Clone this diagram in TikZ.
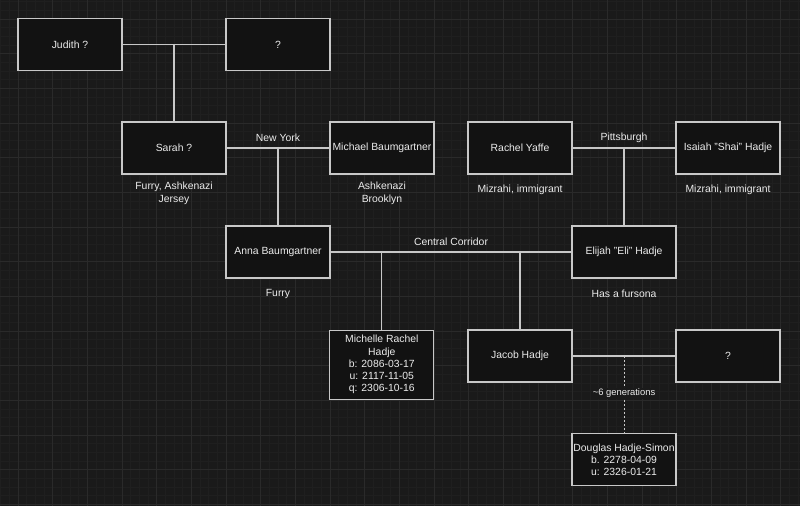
\documentclass[tikz,border=0pt]{standalone}
\usepackage{fontspec}
\setmainfont{Liberation Sans}
\definecolor{bgcol}{HTML}{1A1A1A}
\definecolor{minorcol}{HTML}{1F1F1F}
\definecolor{majorcol}{HTML}{2A2A2A}
\definecolor{boxfill}{HTML}{121212}
\definecolor{strokecol}{HTML}{C8C8C8}
\definecolor{txtcol}{HTML}{ECECEC}
\tikzset{
  person/.style={draw=strokecol, fill=boxfill, line width=1.1pt, minimum width=104pt, minimum height=52pt, inner sep=1pt, text=txtcol, align=center, font=\fontsize{10.4}{12.3}\selectfont},
  tall/.style={minimum height=69.3pt},
  note/.style={text=txtcol, align=center, inner sep=1pt, font=\fontsize{10.4}{13.5}\selectfont, yshift=-1.8pt},
  link/.style={draw=strokecol, line width=1.1pt},
}
\begin{document}
\begin{tikzpicture}[x=1pt,y=-1pt]
\fill[bgcol] (0,0) rectangle (800,506);
\useasboundingbox (0,0) rectangle (800,506);
% grid
\foreach \i in {0,...,92} {\draw[minorcol, line width=0.6pt] (0.667+\i*8.6667,0) -- (0.667+\i*8.6667,506);}
\foreach \i in {0,...,58} {\draw[minorcol, line width=0.6pt] (0,1.667+\i*8.6667) -- (800,1.667+\i*8.6667);}
\foreach \i in {-1,...,23} {\draw[majorcol, line width=0.9pt] (18+\i*34.6667,0) -- (18+\i*34.6667,506);}
\foreach \i in {-1,...,14} {\draw[majorcol, line width=0.9pt] (0,19+\i*34.6667) -- (800,19+\i*34.6667);}
% people
\node[person] (judith) at (70,44.5) {Judith ?};
\node[person] (unk1) at (278,44.5) {?};
\node[person] (sarah) at (174,148) {Sarah ?};
\node[person] (michael) at (382,148) {Michael Baumgartner};
\node[person] (rachel) at (520,148) {Rachel Yaffe};
\node[person] (isaiah) at (728,148) {Isaiah "Shai" Hadje};
\node[person] (anna) at (278,252) {Anna Baumgartner};
\node[person] (elijah) at (624,252) {Elijah "Eli" Hadje};
\node[person, tall] (michelle) at (381.8,364.7) {Michelle Rachel\\Hadje\\b: 2086-03-17\\u: 2117-11-05\\q: 2306-10-16};
\node[person] (jacob) at (520,356) {Jacob Hadje};
\node[person] (unk2) at (728,356) {?};
\node[person] (douglas) at (624,459.7) {Douglas Hadje-Simon\\b. 2278-04-09\\u: 2326-01-21};
% notes
\node[note] (nsarah) at (174,191.5) {Furry, Ashkenazi\\Jersey};
\node[note] (nmichael) at (382,191.5) {Ashkenazi\\Brooklyn};
\node[note] (nrachel) at (520,188.3) {Mizrahi, immigrant};
\node[note] (nisaiah) at (728,188.3) {Mizrahi, immigrant};
\node[note] (nanna) at (278,292) {Furry};
\node[note] (nelijah) at (624,292) {Has a fursona};
% connectors
\draw[link] (judith.east) -- (unk1.west);
\draw[link] (judith.east -| sarah.north) -- (sarah.north);
\draw[link] (sarah.east) -- (michael.west);
\draw[link] (sarah.east -| anna.north) -- (anna.north);
\draw[link] (rachel.east) -- (isaiah.west);
\draw[link] (rachel.east -| elijah.north) -- (elijah.north);
\draw[link] (anna.east) -- (elijah.west);
\draw[link] (anna.east -| michelle.north) -- (michelle.north);
\draw[link] (anna.east -| jacob.north) -- (jacob.north);
\draw[link] (jacob.east) -- (unk2.west);
\draw[link, line width=1pt, dash pattern=on 2pt off 2pt] (jacob.east -| douglas.north) -- (douglas.north);
% edge labels
\node[note] (lny) at (278,136) {New York};
\node[note] (lpit) at (624,136) {Pittsburgh};
\node[note] (lcc) at (451,240) {Central Corridor};
\node[note, fill=bgcol, font=\fontsize{9.4}{11}\selectfont] (lgen) at (624,391.7) {\textasciitilde6 generations};
\end{tikzpicture}
\end{document}
